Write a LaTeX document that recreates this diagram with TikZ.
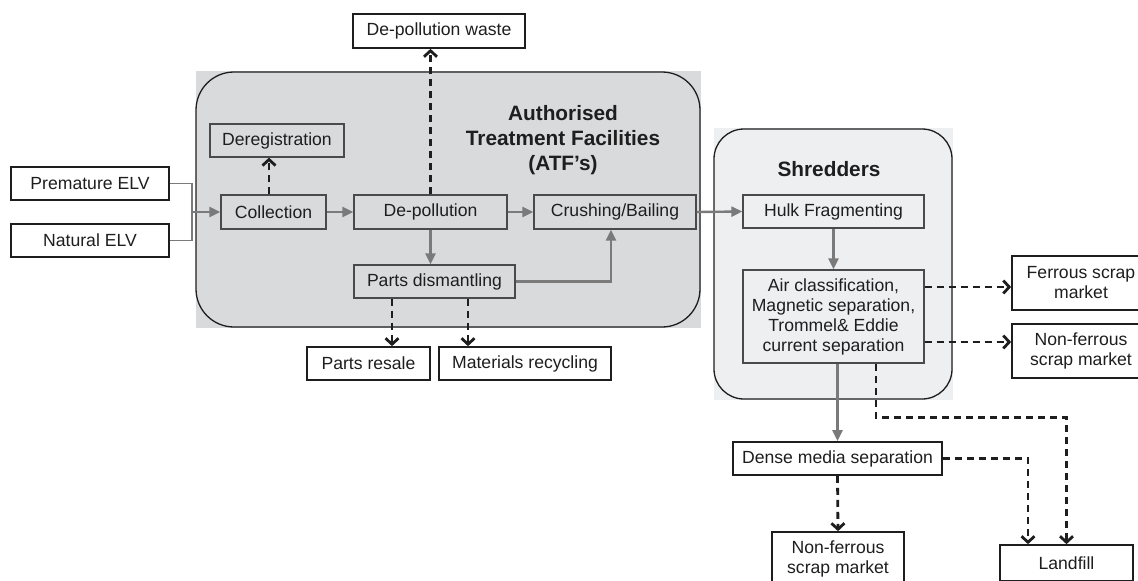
\documentclass[tikz,border=0pt]{standalone}
\usepackage{fontspec}
\setmainfont{Liberation Sans}
\usetikzlibrary{arrows.meta}
\definecolor{atffill}{HTML}{D9DADC}
\definecolor{shrfill}{HTML}{EEEFF1}
\definecolor{flowgray}{HTML}{7A7A7A}
\definecolor{boxgray}{HTML}{4A4A4A}
\definecolor{ink}{HTML}{1E1E1E}
\tikzset{
  inbox/.style={draw=boxgray, line width=1.3pt, inner sep=0pt, align=center, text=ink},
  outbox/.style={draw=ink, line width=1.7pt, fill=white, inner sep=0pt, align=center, text=ink},
  flow/.style={draw=flowgray, line width=2.4pt, -{Triangle[length=11pt,width=10pt]}},
  feed/.style={draw=flowgray, line width=1.3pt},
  waste/.style={draw=ink, line width=2.8pt, dash pattern=on 7pt off 5pt, -{Straight Barb[length=6pt,width=13pt]}},
  title/.style={font=\bfseries\fontsize{20.8}{25}\selectfont, align=center, text=ink}
}
\begin{document}
\begin{tikzpicture}[x=1pt,y=-1pt, font=\fontsize{17.6}{20}\selectfont]
\useasboundingbox (0,0) rectangle (1138,581);
\clip (0,0) rectangle (1138,581);
% containers
\fill[atffill] (196,71) rectangle (701,328);
\draw[ink, line width=1.3pt, rounded corners=38pt] (196,72) rectangle (700,327);
\fill[shrfill] (714,128) rectangle (953,400);
\draw[ink, line width=1.3pt, rounded corners=30pt] (714,129) rectangle (952,399);
\node[title] (atft) at (563,140) {Authorised\\Treatment Facilities\\(ATF’s)};
\node[title] (shrt) at (829,169) {Shredders};
% nodes
\node[outbox, minimum width=158pt, minimum height=33pt] (prem) at (90,183.5) {Premature ELV};
\node[outbox, minimum width=158pt, minimum height=33pt] (nat) at (90,240.5) {Natural ELV};
\node[inbox, minimum width=105pt, minimum height=34pt] (coll) at (273.5,212) {Collection};
\node[inbox, minimum width=134pt, minimum height=33pt] (dereg) at (277,140.5) {Deregistration};
\node[inbox, minimum width=153pt, minimum height=34pt] (depol) at (430.5,212) {De-pollution};
\node[inbox, minimum width=162pt, minimum height=34pt] (crush) at (615,212) {Crushing/Bailing};
\node[inbox, minimum width=161pt, minimum height=33pt] (parts) at (434.5,281.5) {Parts dismantling};
\node[outbox, minimum width=172pt, minimum height=34pt] (waste) at (439,31) {De-pollution waste};
\node[outbox, minimum width=123pt, minimum height=33pt] (resale) at (368.5,363.5) {Parts resale};
\node[outbox, minimum width=172pt, minimum height=33pt] (matrec) at (525,363.5) {Materials recycling};
\node[inbox, minimum width=181pt, minimum height=33pt] (hulk) at (833.5,211.5) {Hulk Fragmenting};
\node[inbox, minimum width=181pt, minimum height=93pt] (air) at (833.5,316.5) {Air classification,\\Magnetic separation,\\Trommel\& Eddie\\current separation};
\node[outbox, minimum width=138pt, minimum height=54pt] (ferr) at (1081,283) {Ferrous scrap\\market};
\node[outbox, minimum width=138pt, minimum height=54pt] (nonfa) at (1081,351) {Non-ferrous\\scrap market};
\node[outbox, minimum width=209pt, minimum height=33pt] (dense) at (837.5,458.5) {Dense media separation};
\node[outbox, minimum width=132pt, minimum height=54pt] (nonfb) at (838,559) {Non-ferrous\\scrap market};
\node[outbox, minimum width=133pt, minimum height=36pt] (land) at (1066.5,563) {Landfill};
% feed lines
\coordinate (join) at (192,212);
\draw[feed] (prem.east) -| (join);
\draw[feed] (nat.east) -| (join);
\draw[flow] (join) -- (coll.west);
% solid flows
\draw[flow] (coll.east) -- (depol.west);
\draw[flow] (depol.east) -- (crush.west);
\draw[flow] (depol.south) -- (depol.south |- parts.north);
\coordinate (cb) at ([xshift=-4pt]crush.south);
\draw[flow] (parts.east) -| (cb);
\draw[flow] (crush.east) -- (hulk.west);
\draw[flow] (hulk.south) -- (air.north);
\draw[flow] (dense.north |- air.south) -- (dense.north);
% dashed flows
\coordinate (c1) at ([xshift=-4.5pt]coll.north);
\draw[waste] (c1) -- (c1 |- dereg.south);
\draw[waste] (depol.north) -- (depol.north |- waste.south);
\coordinate (p1) at ([xshift=-42.5pt]parts.south);
\coordinate (p2) at ([xshift=33.5pt]parts.south);
\draw[waste] (p1) -- (p1 |- resale.north);
\draw[waste] (p2) -- (p2 |- matrec.north);
\coordinate (a1) at ([yshift=29.5pt]air.east);
\coordinate (a2) at ([yshift=-25.5pt]air.east);
\draw[waste] (a1) -- (a1 -| ferr.west);
\draw[waste] (a2) -- (a2 -| nonfa.west);
\coordinate (a3) at ([xshift=42.5pt]air.south);
\draw[waste] (a3) -- ++(0,54) -| (land.north);
\coordinate (l1) at ([xshift=-38.5pt]land.north);
\draw[waste] (dense.east) -| (l1);
\draw[waste] (dense.south) -- (nonfb.north);
\end{tikzpicture}
\end{document}
